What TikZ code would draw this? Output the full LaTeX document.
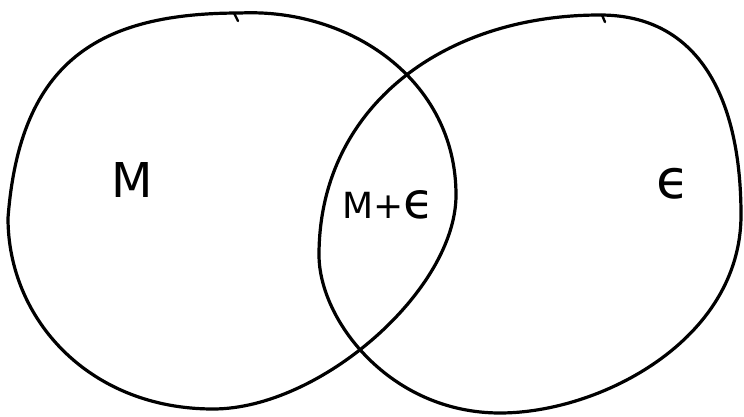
\documentclass[tikz,border=0pt]{standalone}
\usepackage{fontspec}
\setmainfont{DejaVu Sans}
\begin{document}
\begin{tikzpicture}[x=1pt,y=-1pt,
  outline/.style={line width=3.2pt,line join=round,line cap=round},
  tick/.style={line width=2.4pt,line cap=round},
  lbl/.style={inner sep=0pt,font=\fontsize{44}{44}\selectfont\sffamily}]
\useasboundingbox[fill=white] (0,0) rectangle (744,417);
% left set M
\coordinate (lt) at (240,13);
\coordinate (lr) at (456,195);
\coordinate (lb) at (213,409);
\coordinate (ll) at (8,218);
\draw[outline] (lt) .. controls (350,8) and (456,80) .. (lr)
  .. controls (456,290) and (320,409) .. (lb)
  .. controls (90,409) and (8,320) .. (ll)
  .. controls (20,60) and (100,13) .. cycle;
% right set E
\coordinate (rt) at (600,15);
\coordinate (rr) at (741,215);
\coordinate (rb) at (500,413);
\coordinate (rl) at (319,255);
\draw[outline] (rt) .. controls (700,15) and (741,100) .. (rr)
  .. controls (741,340) and (600,413) .. (rb)
  .. controls (390,413) and (319,320) .. (rl)
  .. controls (319,110) and (440,15) .. cycle;
% small pen marks at the tops
\coordinate (t1a) at (234,13);
\coordinate (t1b) at (238,21);
\draw[tick] (t1a) -- (t1b);
\coordinate (t2a) at (602,15);
\coordinate (t2b) at (605,22);
\draw[tick] (t2a) -- (t2b);
\node[lbl,font=\fontsize{48}{48}\selectfont] (m) at (132,180) {M};
\node[lbl,font=\fontsize{36}{36}\selectfont] (me) at (388,205) {M+\fontsize{50}{50}\selectfont ϵ};
\node[lbl,font=\fontsize{54}{54}\selectfont] (e) at (673,184) {ϵ};
\end{tikzpicture}
\end{document}
